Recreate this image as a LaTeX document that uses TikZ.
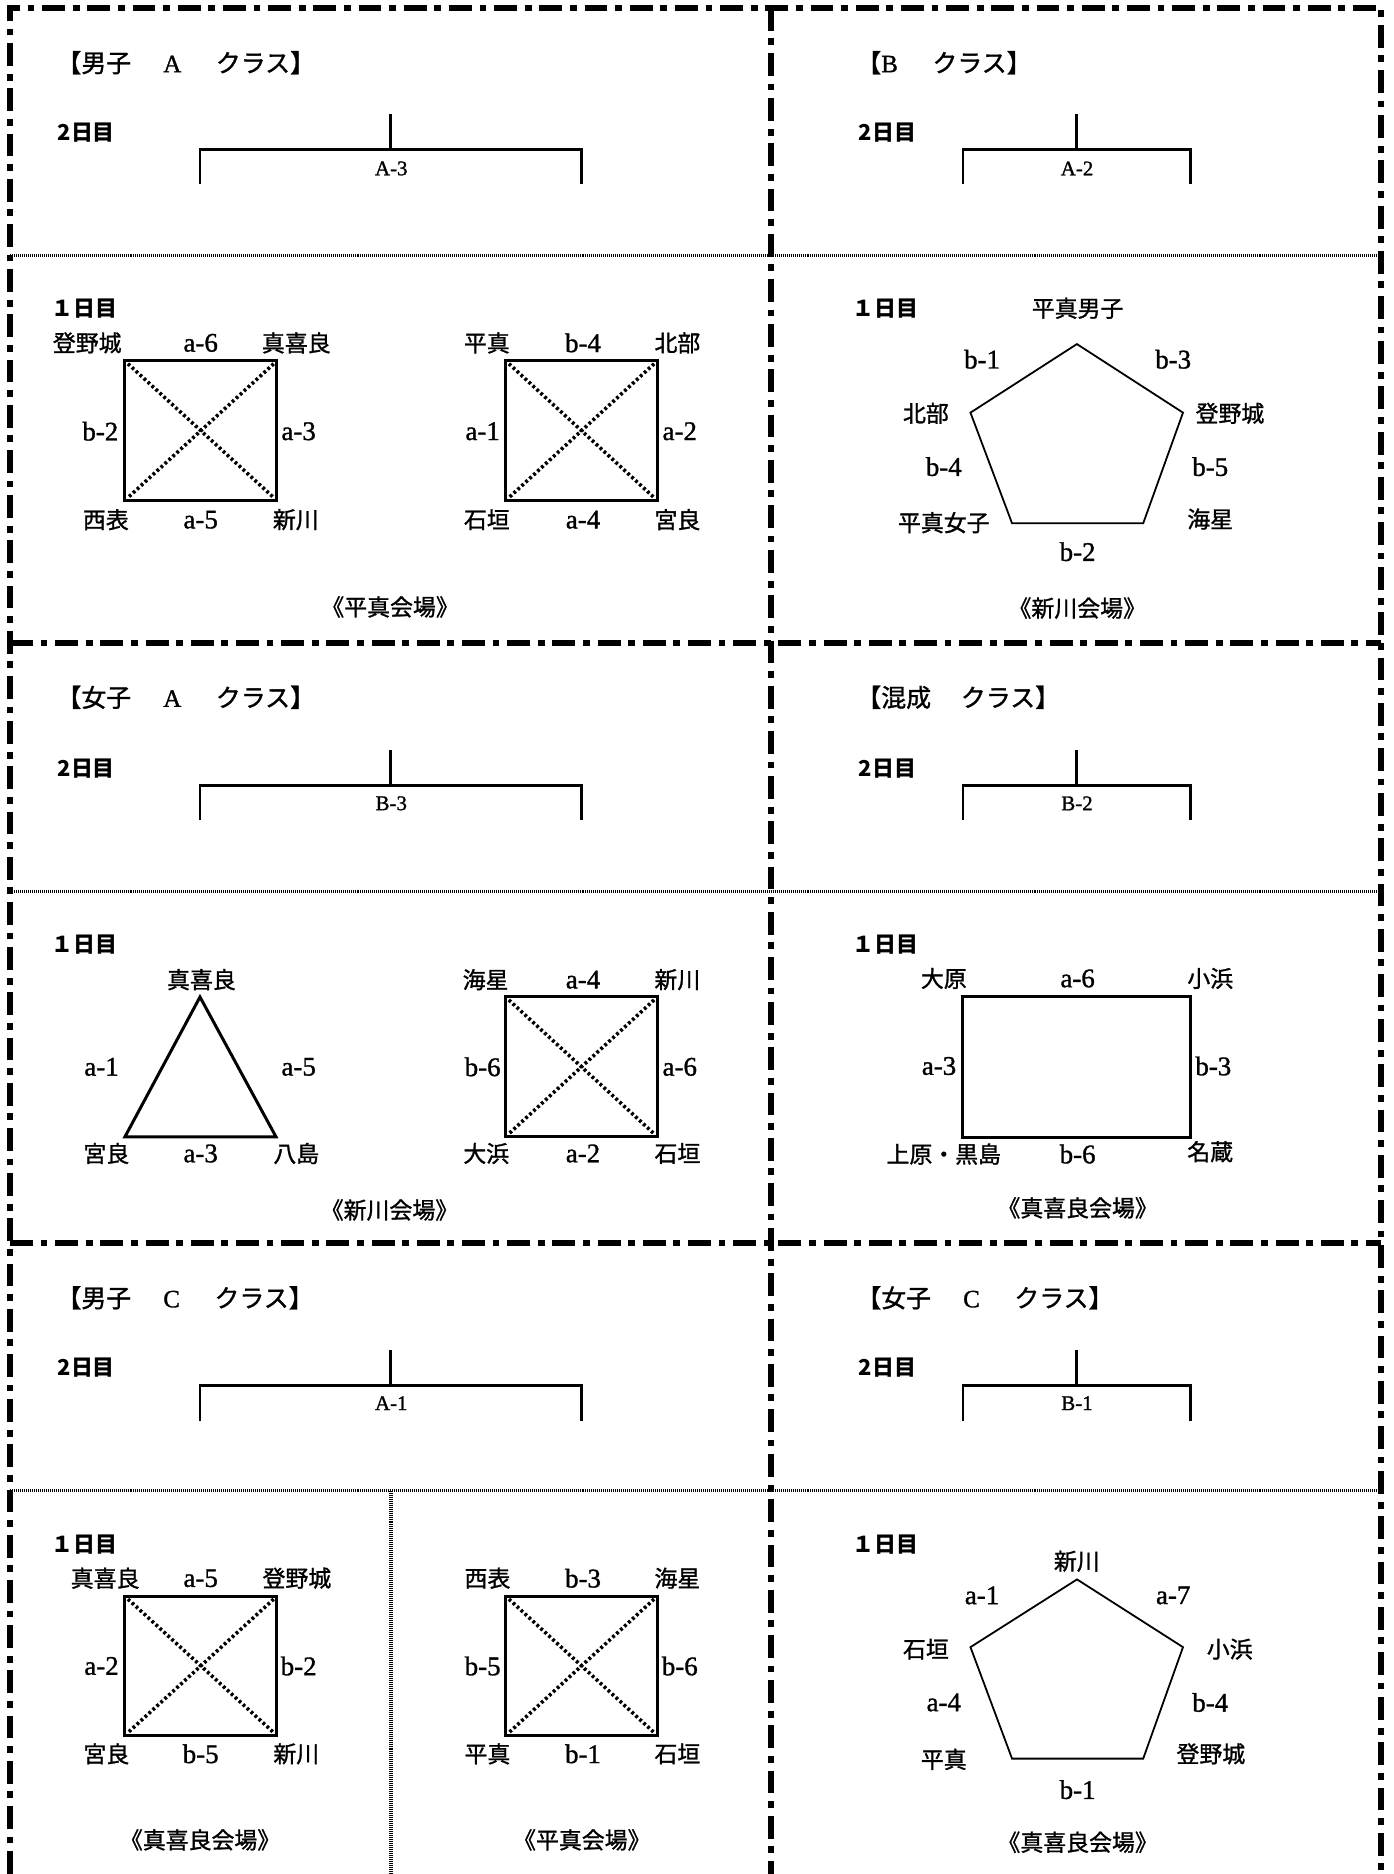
\documentclass[tikz,border=0pt]{standalone}
\usepackage{fontspec}
\setmainfont{Noto Sans CJK JP}
\newfontfamily\cjkm{Noto Sans CJK JP}[FakeBold=1.2]
\newfontfamily\lat{Liberation Serif}[FakeBold=1.2]
\newcommand\crossbox[4]{%
  \draw[boxline] (#1,#2) rectangle (#3,#4);
  \draw[diag] ($(#1,#2)+(2.5,2.5)$) -- ($(#3,#4)+(-2.5,-2.5)$);
  \draw[diag] ($(#3,#2)+(-2.5,2.5)$) -- ($(#1,#4)+(2.5,-2.5)$);
}
\usetikzlibrary{calc}
\begin{document}
\begin{tikzpicture}[x=0.6pt,y=-0.6pt,
  frame/.style={line width=2.8pt, dash pattern=on 11.5pt off 3.9pt on 3.4pt off 3.9pt},
  sep/.style={line width=1.5pt, dash pattern=on 0.5pt off 0.5pt},
  vsep/.style={line width=2pt, dash pattern=on 0.5pt off 0.5pt},
  boxline/.style={line width=1.5pt},
  diag/.style={line width=1.8pt, dash pattern=on 1.4pt off 1.3pt},
  brk/.style={line width=1.4pt},
  pent/.style={line width=0.9pt},
  lbl/.style={inner sep=0pt, font=\lat\fontsize{13.5}{15}\selectfont},
  nm/.style={inner sep=0pt, font=\cjkm\fontsize{11.5}{13}\selectfont},
  ttl/.style={inner sep=0pt, anchor=west, font=\cjkm\fontsize{12.5}{14}\selectfont},
  day/.style={inner sep=0pt, anchor=west, font=\bfseries\fontsize{11}{13}\selectfont},
  brl/.style={inner sep=0pt, font=\lat\fontsize{10.5}{12}\selectfont}]
\useasboundingbox (0,0) rectangle (1166,1568.6);
\fill[white] (0,0) rectangle (1166,1568.6);

% dotted separators
\draw[sep] (8.4,214) -- (1156,214);
\draw[sep] (8.4,746.6) -- (1156,746.6);
\draw[sep] (8.4,1247.7) -- (1156,1247.7);
\draw[vsep] (327,1247.7) -- (327,1568.6);

% frame
\draw[frame] (8.4,1568.6) -- (8.4,6.5) -- (1156,6.5) -- (1156,1568.6);
\draw[frame] (645.4,6.5) -- (645.4,1568.6);
\draw[frame] (8.4,538.2) -- (1156,538.2);
\draw[frame] (8.4,1040.4) -- (1156,1040.4);

% brackets
\foreach \cx/\l/\r/\yt/\yh/\yl in {327/167.4/486.5/95.7/125.4/154, 901.2/806/996.5/95.7/125.4/154,
  327/167.4/486.5/627.8/657.6/686.4, 901.2/806/996.5/627.8/657.6/686.4,
  327/167.4/486.5/1129.6/1159.5/1189.5, 901.2/806/996.5/1129.6/1159.5/1189.5}{
  \draw[brk] (\cx,\yt) -- (\cx,\yh);
  \draw[brk] (\l,\yl) -- (\l,\yh) -- (\r,\yh) -- (\r,\yl);
}

% titles
\node[ttl] (t1) at (47,52.5) {【男子\hspace{1.29em}{\lat A}\hspace{1.39em}クラス】};
\node[ttl] (t2) at (716.5,52.5) {【{\lat B}\hspace{1.39em}クラス】};
\node[ttl] (t3) at (47,583.7) {【女子\hspace{1.29em}{\lat A}\hspace{1.39em}クラス】};
\node[ttl] (t4) at (716.5,583.7) {【混成\hspace{1.2em}クラス】};
\node[ttl] (t5) at (47,1086.3) {【男子\hspace{1.29em}{\lat C}\hspace{1.39em}クラス】};
\node[ttl] (t6) at (716.5,1086.3) {【女子\hspace{1.29em}{\lat C}\hspace{1.39em}クラス】};

% day labels
\node[day] (d21) at (48,111) {2日目};
\node[day] (d22) at (718.5,111) {2日目};
\node[day] (d23) at (48,643) {2日目};
\node[day] (d24) at (718.5,643) {2日目};
\node[day] (d25) at (48,1144.6) {2日目};
\node[day] (d26) at (718.5,1144.6) {2日目};
\node[day] (d11) at (43,258.5) {１日目};
\node[day] (d12) at (713.5,258.5) {１日目};
\node[day] (d13) at (43,791) {１日目};
\node[day] (d14) at (713.5,791) {１日目};
\node[day] (d15) at (43,1292.5) {１日目};
\node[day] (d16) at (713.5,1292.5) {１日目};

% bracket labels
\node[brl] (b1) at (327.5,141) {A-3};
\node[brl] (b2) at (901.5,141) {A-2};
\node[brl] (b3) at (327.5,672.4) {B-3};
\node[brl] (b4) at (901.5,672.4) {B-2};
\node[brl] (b5) at (327.5,1174.5) {A-1};
\node[brl] (b6) at (901.5,1174.5) {B-1};

% ===== Section 1 left
\crossbox{104.6}{302}{231.6}{419}
\crossbox{423.5}{302}{550}{419}
\node[nm] (n11) at (73,287) {登野城};
\node[lbl] (l11) at (168,287) {a-6};
\node[nm] (n12) at (248,287) {真喜良};
\node[lbl] (l12) at (84,361) {b-2};
\node[lbl] (l13) at (250,361) {a-3};
\node[nm] (n13) at (88.6,435) {西表};
\node[lbl] (l14) at (168,435) {a-5};
\node[nm] (n14) at (247.6,435) {新川};
\node[nm] (n15) at (407.5,287) {平真};
\node[lbl] (l15) at (488,287) {b-4};
\node[nm] (n16) at (567,287) {北部};
\node[lbl] (l16) at (404,361) {a-1};
\node[lbl] (l17) at (569,361) {a-2};
\node[nm] (n17) at (407.5,435) {石垣};
\node[lbl] (l18) at (488,435) {a-4};
\node[nm] (n18) at (567,435) {宮良};
\node[nm] (v11) at (326.5,508) {《平真会場》};

% ===== Section 1 right
\draw[pent] (901.4,288) -- (990.2,345.4) -- (956.9,438) -- (847.1,438) -- (812.3,345.4) -- cycle;
\node[nm] (p11) at (902,258) {平真男子};
\node[lbl] (q11) at (822,300.7) {b-1};
\node[lbl] (q12) at (982,300.7) {b-3};
\node[nm] (p12) at (775,346) {北部};
\node[nm] (p13) at (1029.5,346) {登野城};
\node[lbl] (q13) at (790,390.6) {b-4};
\node[lbl] (q14) at (1013,390.6) {b-5};
\node[nm] (p14) at (790,437.5) {平真女子};
\node[nm] (p15) at (1013,434.5) {海星};
\node[lbl] (q15) at (902,461.8) {b-2};
\node[nm] (v12) at (901.7,509) {《新川会場》};

% ===== Section 2 left
\draw[boxline, line join=miter] (167.4,834.5) -- (231,951.5) -- (104.6,951.5) -- cycle;
\node[nm] (n21) at (168.6,820) {真喜良};
\node[lbl] (l21) at (85,893) {a-1};
\node[lbl] (l22) at (250,893) {a-5};
\node[nm] (n22) at (89,965.5) {宮良};
\node[lbl] (l23) at (168,965.5) {a-3};
\node[nm] (n23) at (248,965.5) {八島};
\crossbox{423.4}{834.5}{550}{951.5}
\node[nm] (n24) at (406.5,820) {海星};
\node[lbl] (l24) at (488,820) {a-4};
\node[nm] (n25) at (567,820) {新川};
\node[lbl] (l25) at (404,893) {b-6};
\node[lbl] (l26) at (569,893) {a-6};
\node[nm] (n26) at (407,965.5) {大浜};
\node[lbl] (l27) at (488,965.5) {a-2};
\node[nm] (n27) at (567,965.5) {石垣};
\node[nm] (v21) at (326,1012.8) {《新川会場》};

% ===== Section 2 right
\draw[boxline] (806,834.5) rectangle (996.5,952);
\node[nm] (n28) at (790,819) {大原};
\node[lbl] (l28) at (902,819) {a-6};
\node[nm] (n29) at (1013,819) {小浜};
\node[lbl] (l29) at (786,892.3) {a-3};
\node[lbl] (l2a) at (1015.6,892.3) {b-3};
\node[nm] (n2a) at (790,966) {上原・黒島};
\node[lbl] (l2b) at (902,966) {b-6};
\node[nm] (n2b) at (1013,964) {名蔵};
\node[nm] (v22) at (902,1011) {《真喜良会場》};

% ===== Section 3 left
\crossbox{104.6}{1336}{231.6}{1452.7}
\crossbox{423.5}{1336}{550}{1452.7}
\node[nm] (n31) at (88,1321) {真喜良};
\node[lbl] (l31) at (168,1321) {a-5};
\node[nm] (n32) at (248.5,1321) {登野城};
\node[lbl] (l32) at (85,1394.5) {a-2};
\node[lbl] (l33) at (250,1394.5) {b-2};
\node[nm] (n33) at (89,1468) {宮良};
\node[lbl] (l34) at (168,1468) {b-5};
\node[nm] (n34) at (248,1468) {新川};
\node[nm] (n35) at (408,1321) {西表};
\node[lbl] (l35) at (488,1321) {b-3};
\node[nm] (n36) at (567,1321) {海星};
\node[lbl] (l36) at (404,1394.5) {b-5};
\node[lbl] (l37) at (569,1394.5) {b-6};
\node[nm] (n37) at (408,1468) {平真};
\node[lbl] (l38) at (488,1468) {b-1};
\node[nm] (n38) at (567,1468) {石垣};
\node[nm] (v31) at (167.5,1540) {《真喜良会場》};
\node[nm] (v32) at (487,1540) {《平真会場》};

% ===== Section 3 right
\draw[pent] (901.5,1322) -- (990.2,1378.7) -- (956.9,1472) -- (847.1,1472) -- (812.3,1378.7) -- cycle;
\node[nm] (p31) at (901.3,1306.8) {新川};
\node[lbl] (q31) at (822,1335.4) {a-1};
\node[lbl] (q32) at (982,1335.4) {a-7};
\node[nm] (p32) at (775,1380.4) {石垣};
\node[nm] (p33) at (1029.3,1380.4) {小浜};
\node[lbl] (q33) at (790,1425) {a-4};
\node[lbl] (q34) at (1013,1425) {b-4};
\node[nm] (p34) at (790,1472.7) {平真};
\node[nm] (p35) at (1013.5,1468) {登野城};
\node[lbl] (q35) at (902,1498) {b-1};
\node[nm] (v33) at (902,1542) {《真喜良会場》};
\end{tikzpicture}
\end{document}
